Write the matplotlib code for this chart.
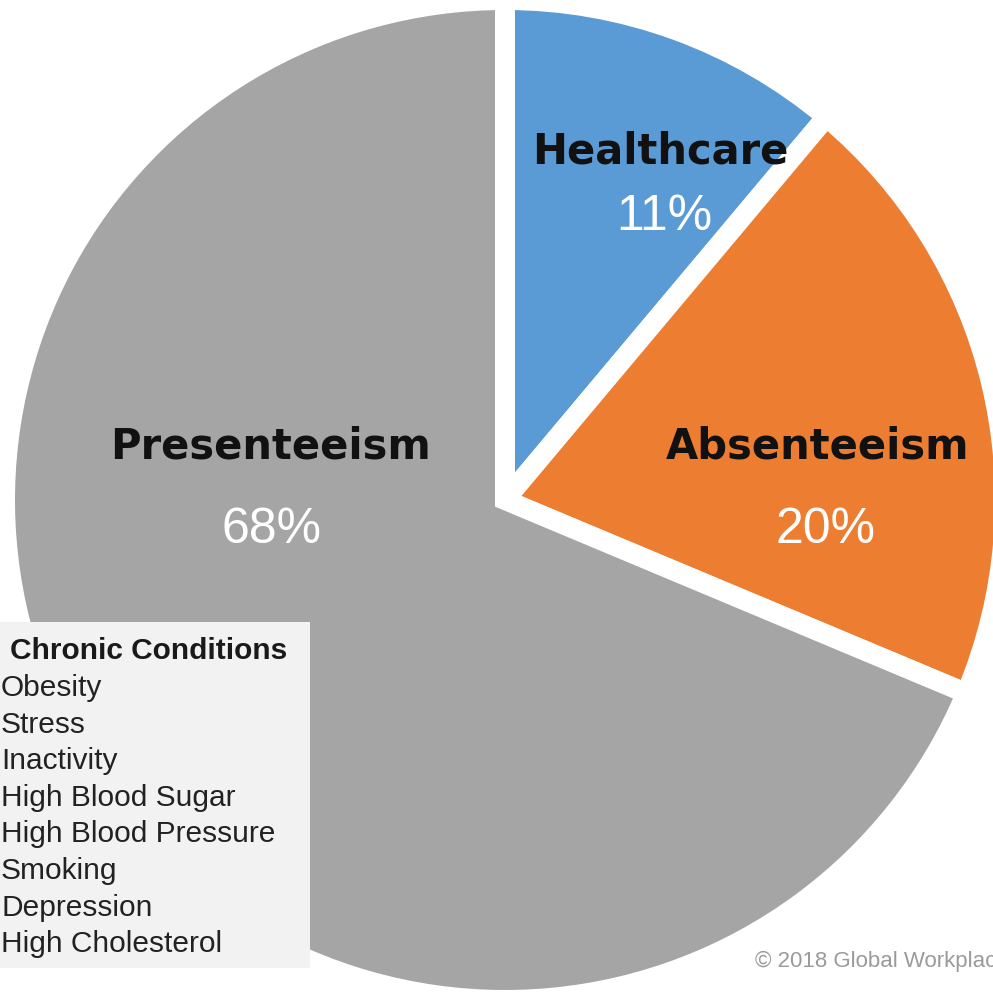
import matplotlib.pyplot as plt
from matplotlib.patches import Rectangle

# cost share of poor health, in percent
categories = ["Healthcare", "Absenteeism", "Presenteeism"]
shares = [11, 20, 68]
colors = ["#5B9BD5", "#ED7D31", "#A5A5A5"]

conditions_title = "Chronic Conditions"
conditions = ["Obesity", "Stress", "Inactivity", "High Blood Sugar",
              "High Blood Pressure", "Smoking", "Depression", "High Cholesterol"]
credit = "\u00a9 2018 Global Workplace"

W, H = 993, 998
fig = plt.figure(figsize=(W / 100, H / 100), dpi=100)
ax = fig.add_axes([0, 0, 1, 1])

# pie in pixel units, y measured upwards from the bottom
cx, cy = 505, H - 500
ax.pie(shares, colors=colors, startangle=90, counterclock=False,
       radius=500, center=(cx, cy),
       wedgeprops=dict(edgecolor="white", linewidth=14.4))
ax.set_aspect("auto")
ax.set_xlim(0, W)
ax.set_ylim(0, H)
ax.axis("off")

bold = dict(family="DejaVu Sans", fontweight="bold", fontsize=30,
            color="#111111", ha="center", va="baseline")
pct = dict(family="Liberation Sans", fontsize=36, color="white",
           ha="center", va="baseline")

# name and share for each slice
label_pos = {"Healthcare": (660, 163, 664, 230),
             "Absenteeism": (818, 458, 826, 543),
             "Presenteeism": (271, 458, 272, 543)}
for name, val in zip(categories, shares):
    x1, y1, x2, y2 = label_pos[name]
    ax.text(x1, H - y1, name, **bold)
    ax.text(x2, H - y2, "%d%%" % val, **pct)

# conditions box in the lower left
ax.add_patch(Rectangle((0, H - 968), 310, 346, facecolor="#F2F2F2",
                       edgecolor="none", zorder=3))
ax.text(10, H - 659, conditions_title, family="Liberation Sans",
        fontweight="bold", fontsize=21.5, color="#1a1a1a", zorder=4)
for i, c in enumerate(conditions):
    ax.text(1, H - (696 + i * 36.6), c, family="Liberation Sans",
            fontsize=21.5, color="#222222", zorder=4)

ax.text(755, H - 967, credit, family="Liberation Sans", fontsize=16,
        color="#9a9a9a")

fig.savefig("out.png", dpi=100)
